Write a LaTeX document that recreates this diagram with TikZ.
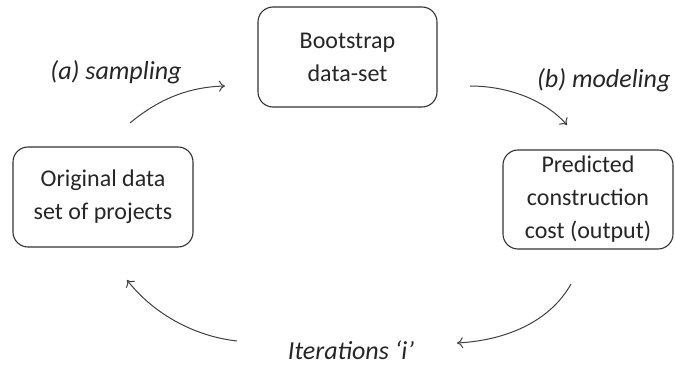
\documentclass[tikz,border=0pt]{standalone}
\usepackage{fontspec}
\setmainfont{Carlito}
\usetikzlibrary{arrows.meta}
\begin{document}
\begin{tikzpicture}[x=1pt,y=1pt,
  box/.style={draw=black!80, line width=1.1pt, rounded corners=15pt, align=center,
    inner sep=0pt, font=\fontsize{24}{33}\selectfont, text=black!85},
  lbl/.style={font=\fontsize{26}{30}\selectfont\itshape, text=black!85},
  arr/.style={draw=black!75, line width=1pt, -{To[length=6pt,width=11pt]}}]
\useasboundingbox (0,0) rectangle (675,-366);
\node[box, minimum width=179pt, minimum height=100pt] (boot) at (347.5,-57) {Bootstrap\\data-set};
\node[box, minimum width=180pt, minimum height=100pt] (orig) at (103,-197) {Original data\\set of projects};
\node[box, minimum width=170pt, minimum height=99pt] (pred) at (588,-199.5) {Predicted\\construction\\cost (output)};
\node[lbl] (la) at (116,-72) {(a) sampling};
\node[lbl, anchor=east] (lb) at (674,-80) {(b) modeling};
\node[lbl] (lc) at (351,-350) {Iterations `i'};
\coordinate (a1) at (130,-123); \coordinate (a2) at (225,-86);
\coordinate (b1) at (470,-86); \coordinate (b2) at (567,-125);
\coordinate (c1) at (571,-284); \coordinate (c2) at (457,-343);
\coordinate (d1) at (237,-341); \coordinate (d2) at (127,-280);
\draw[arr] (a1) .. controls (160,-98) and (190,-87) .. (a2);
\draw[arr] (b1) .. controls (508,-86) and (545,-100) .. (b2);
\draw[arr] (c1) .. controls (552,-318) and (512,-340) .. (c2);
\draw[arr] (d1) .. controls (192,-336) and (152,-312) .. (d2);
\end{tikzpicture}
\end{document}
